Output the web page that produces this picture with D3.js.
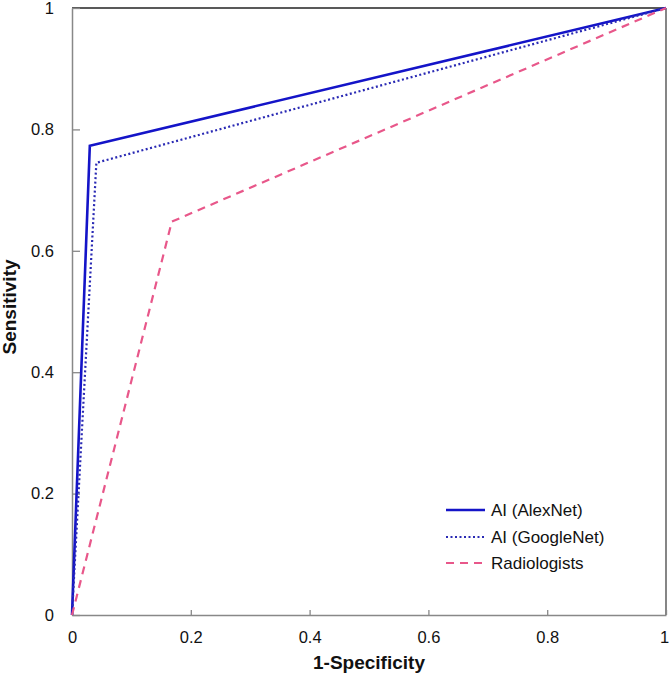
<!DOCTYPE html>
<html><head><meta charset="utf-8">
<script src="https://cdn.jsdelivr.net/npm/d3@7"></script>
<style>body{margin:0;background:#fff}svg{display:block}text{font-family:"Liberation Sans",Arial,sans-serif}</style>
</head><body><svg id="c" width="669" height="676"></svg>
<script>
const alexNet = [[0,0],[0.030,0.773],[1,1]];
const googleNet = [[0,0],[0.041,0.745],[1,1]];
const radiologists = [[0,0],[0.168,0.648],[1,1]];
const seriesNames = ["AI (AlexNet)","AI (GoogleNet)","Radiologists"];
const ticks = [0,0.2,0.4,0.6,0.8,1];

const svg = d3.select("#c");
const L=72,R=666,T=8,B=615;
const x = d3.scaleLinear().domain([0,1]).range([L,R]);
const y = d3.scaleLinear().domain([0,1]).range([B,T]);

// frame
svg.append("line").attr("x1",L).attr("x2",R).attr("y1",T).attr("y2",T).attr("stroke","#222").attr("stroke-width",1.3);
svg.append("line").attr("x1",R).attr("x2",R).attr("y1",T).attr("y2",B).attr("stroke","#444").attr("stroke-width",1.3);

const fmt = d=>d===0||d===1?d3.format("d")(d):d3.format(".1f")(d);
const xAxis = d3.axisBottom(x).tickValues(ticks).tickFormat(fmt).tickSizeInner(-5).tickSizeOuter(0).tickPadding(16);
const yAxis = d3.axisLeft(y).tickValues(ticks).tickFormat(fmt).tickSizeInner(-8).tickSizeOuter(0).tickPadding(18);
const gx = svg.append("g").attr("transform",`translate(0,${B})`).call(xAxis);
const gy = svg.append("g").attr("transform",`translate(${L},0)`).call(yAxis);
[gx,gy].forEach(g=>{
  g.select(".domain").attr("stroke","#888").attr("stroke-width",1.5);
  g.selectAll(".tick line").attr("stroke","#888").attr("stroke-width",1.3);
  g.selectAll(".tick text").attr("font-size",16.5).attr("fill","#111").attr("font-family","Liberation Sans, Arial, sans-serif");
});
gx.selectAll(".tick text").filter(d=>d===1).attr("dx",-2);

svg.append("text").attr("x",369).attr("y",669).attr("text-anchor","middle").attr("font-size",19).attr("font-weight","bold").attr("fill","#111").text("1-Specificity");
svg.append("text").attr("transform","translate(16,307) rotate(-90)").attr("text-anchor","middle").attr("font-size",19).attr("font-weight","bold").attr("fill","#111").text("Sensitivity");

const line = d3.line().x(d=>x(d[0])).y(d=>y(d[1]));
const styles = [
  {data:alexNet, color:"#1414c8", width:2.6, dash:null},
  {data:googleNet, color:"#2a2ab4", width:2.2, dash:"2,2.5"},
  {data:radiologists, color:"#e8578a", width:2.2, dash:"8,6"}
];
styles.forEach(s=>{
  svg.append("path").attr("d",line(s.data)).attr("fill","none").attr("stroke",s.color).attr("stroke-width",s.width).attr("stroke-dasharray",s.dash);
});

const legY=[510,537,563];
styles.forEach((s,i)=>{
  svg.append("line").attr("x1",446).attr("x2",485).attr("y1",legY[i]).attr("y2",legY[i]).attr("stroke",s.color).attr("stroke-width",s.width).attr("stroke-dasharray",s.dash);
  svg.append("text").attr("x",491).attr("y",legY[i]+6).attr("font-size",17).attr("fill","#111").text(seriesNames[i]);
});
</script></body></html>
